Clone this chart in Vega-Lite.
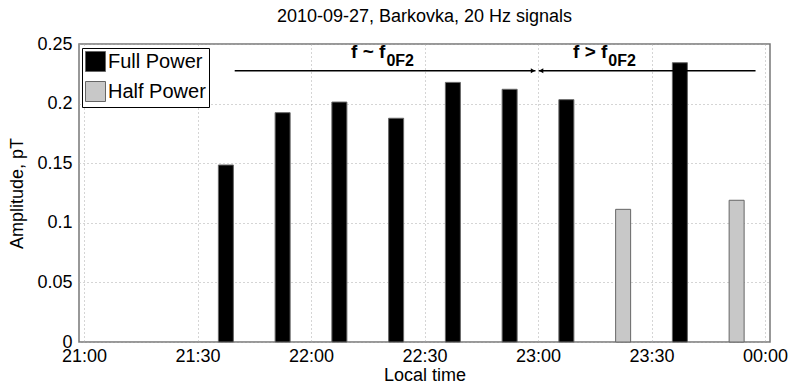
{
  "$schema": "https://vega.github.io/schema/vega-lite/v6.json",
  "autosize": {"type": "none"},
  "width": 691,
  "height": 298,
  "padding": {"left": 79, "top": 44, "right": 28, "bottom": 41},
  "background": "white",
  "config": {
    "font": "Liberation Sans",
    "view": {"stroke": "#777777", "strokeWidth": 1.5},
    "axis": {"labelFont": "Liberation Sans", "titleFont": "Liberation Sans", "labelFontSize": 18, "titleFontSize": 18, "labelColor": "black", "titleColor": "black", "titleFontWeight": "normal", "domain": false, "ticks": false, "gridDash": [1, 3], "gridColor": "#aaaaaa", "gridWidth": 1}
  },
  "title": {"text": "2010-09-27, Barkovka, 20 Hz signals", "fontSize": 18, "fontWeight": "normal", "font": "Liberation Sans", "color": "black", "offset": 9},
  "datasets": {
    "bars": [
      {"time": "2010-09-27T21:37:30Z", "amp": 0.1485, "power": "Full Power"},
      {"time": "2010-09-27T21:52:30Z", "amp": 0.1924, "power": "Full Power"},
      {"time": "2010-09-27T22:07:30Z", "amp": 0.2013, "power": "Full Power"},
      {"time": "2010-09-27T22:22:30Z", "amp": 0.1877, "power": "Full Power"},
      {"time": "2010-09-27T22:37:30Z", "amp": 0.2178, "power": "Full Power"},
      {"time": "2010-09-27T22:52:30Z", "amp": 0.2120, "power": "Full Power"},
      {"time": "2010-09-27T23:07:30Z", "amp": 0.2033, "power": "Full Power"},
      {"time": "2010-09-27T23:22:30Z", "amp": 0.1113, "power": "Half Power"},
      {"time": "2010-09-27T23:37:30Z", "amp": 0.2343, "power": "Full Power"},
      {"time": "2010-09-27T23:52:30Z", "amp": 0.1189, "power": "Half Power"}
    ],
    "spans": [
      {"start": "2010-09-27T21:39:50Z", "end": "2010-09-27T22:59:20Z", "y": 0.2276},
      {"start": "2010-09-27T23:00:10Z", "end": "2010-09-27T23:57:30Z", "y": 0.2276}
    ],
    "heads": [
      {"time": "2010-09-27T22:58:40Z", "y": 0.2276, "shape": "triangle-right"},
      {"time": "2010-09-27T23:00:50Z", "y": 0.2276, "shape": "triangle-left"}
    ],
    "labels": [
      {"time": "2010-09-27T22:19:40Z", "y": 0.2383, "main": "f ~ f", "sub": "0F2"},
      {"time": "2010-09-27T23:18:20Z", "y": 0.2383, "main": "f > f", "sub": "0F2"}
    ]
  },
  "layer": [
    {
      "data": {"name": "bars"},
      "mark": {"type": "bar", "size": 15, "stroke": "#666666", "strokeWidth": 1},
      "encoding": {
        "x": {"field": "time", "type": "temporal",
          "scale": {"type": "utc", "domain": [{"year": 2010, "month": 9, "date": 27, "hours": 21, "utc": true}, {"year": 2010, "month": 9, "date": 28, "hours": 0, "utc": true}]},
          "axis": {"title": "Local time", "labelExpr": "utcFormat(datum.value, '%H:%M')", "grid": true, "labelPadding": 5, "titlePadding": 1,
            "values": [
              {"year": 2010, "month": 9, "date": 27, "hours": 21, "minutes": 0, "utc": true},
              {"year": 2010, "month": 9, "date": 27, "hours": 21, "minutes": 30, "utc": true},
              {"year": 2010, "month": 9, "date": 27, "hours": 22, "minutes": 0, "utc": true},
              {"year": 2010, "month": 9, "date": 27, "hours": 22, "minutes": 30, "utc": true},
              {"year": 2010, "month": 9, "date": 27, "hours": 23, "minutes": 0, "utc": true},
              {"year": 2010, "month": 9, "date": 27, "hours": 23, "minutes": 30, "utc": true},
              {"year": 2010, "month": 9, "date": 28, "hours": 0, "minutes": 0, "utc": true}
            ]}},
        "y": {"field": "amp", "type": "quantitative",
          "scale": {"domain": [0, 0.25], "nice": false},
          "axis": {"title": "Amplitude, pT", "values": [0, 0.05, 0.1, 0.15, 0.2, 0.25], "format": ".2~f", "grid": true, "labelPadding": 7, "titlePadding": 10}},
        "fill": {"field": "power", "type": "nominal",
          "scale": {"domain": ["Full Power", "Half Power"], "range": ["#000000", "#c8c8c8"]},
          "legend": {"title": null, "orient": "none", "legendX": 3, "legendY": 4, "symbolType": "square", "symbolSize": 400, "symbolStrokeColor": "#666666", "symbolStrokeWidth": 1, "labelFontSize": 20, "labelFont": "Liberation Sans", "labelColor": "black", "strokeColor": "black", "fillColor": "white", "padding": 3, "rowPadding": 5, "labelOffset": 2}}
      }
    },
    {
      "data": {"name": "spans"},
      "mark": {"type": "rule", "color": "black", "strokeWidth": 1.5},
      "encoding": {
        "x": {"field": "start", "type": "temporal"},
        "x2": {"field": "end"},
        "y": {"field": "y", "type": "quantitative"}
      }
    },
    {
      "data": {"name": "heads"},
      "mark": {"type": "point", "filled": true, "color": "black", "size": 25, "opacity": 1},
      "encoding": {
        "x": {"field": "time", "type": "temporal"},
        "y": {"field": "y", "type": "quantitative"},
        "shape": {"field": "shape", "type": "nominal", "scale": null, "legend": null}
      }
    },
    {
      "data": {"name": "labels"},
      "mark": {"type": "text", "align": "right", "baseline": "alphabetic", "fontSize": 19, "fontWeight": "bold", "font": "Liberation Sans", "color": "black"},
      "encoding": {
        "x": {"field": "time", "type": "temporal"},
        "y": {"field": "y", "type": "quantitative"},
        "text": {"field": "main"}
      }
    },
    {
      "data": {"name": "labels"},
      "mark": {"type": "text", "align": "left", "baseline": "alphabetic", "dy": 8, "dx": 1, "fontSize": 16, "fontWeight": "bold", "font": "Liberation Sans", "color": "black"},
      "encoding": {
        "x": {"field": "time", "type": "temporal"},
        "y": {"field": "y", "type": "quantitative"},
        "text": {"field": "sub"}
      }
    }
  ]
}
